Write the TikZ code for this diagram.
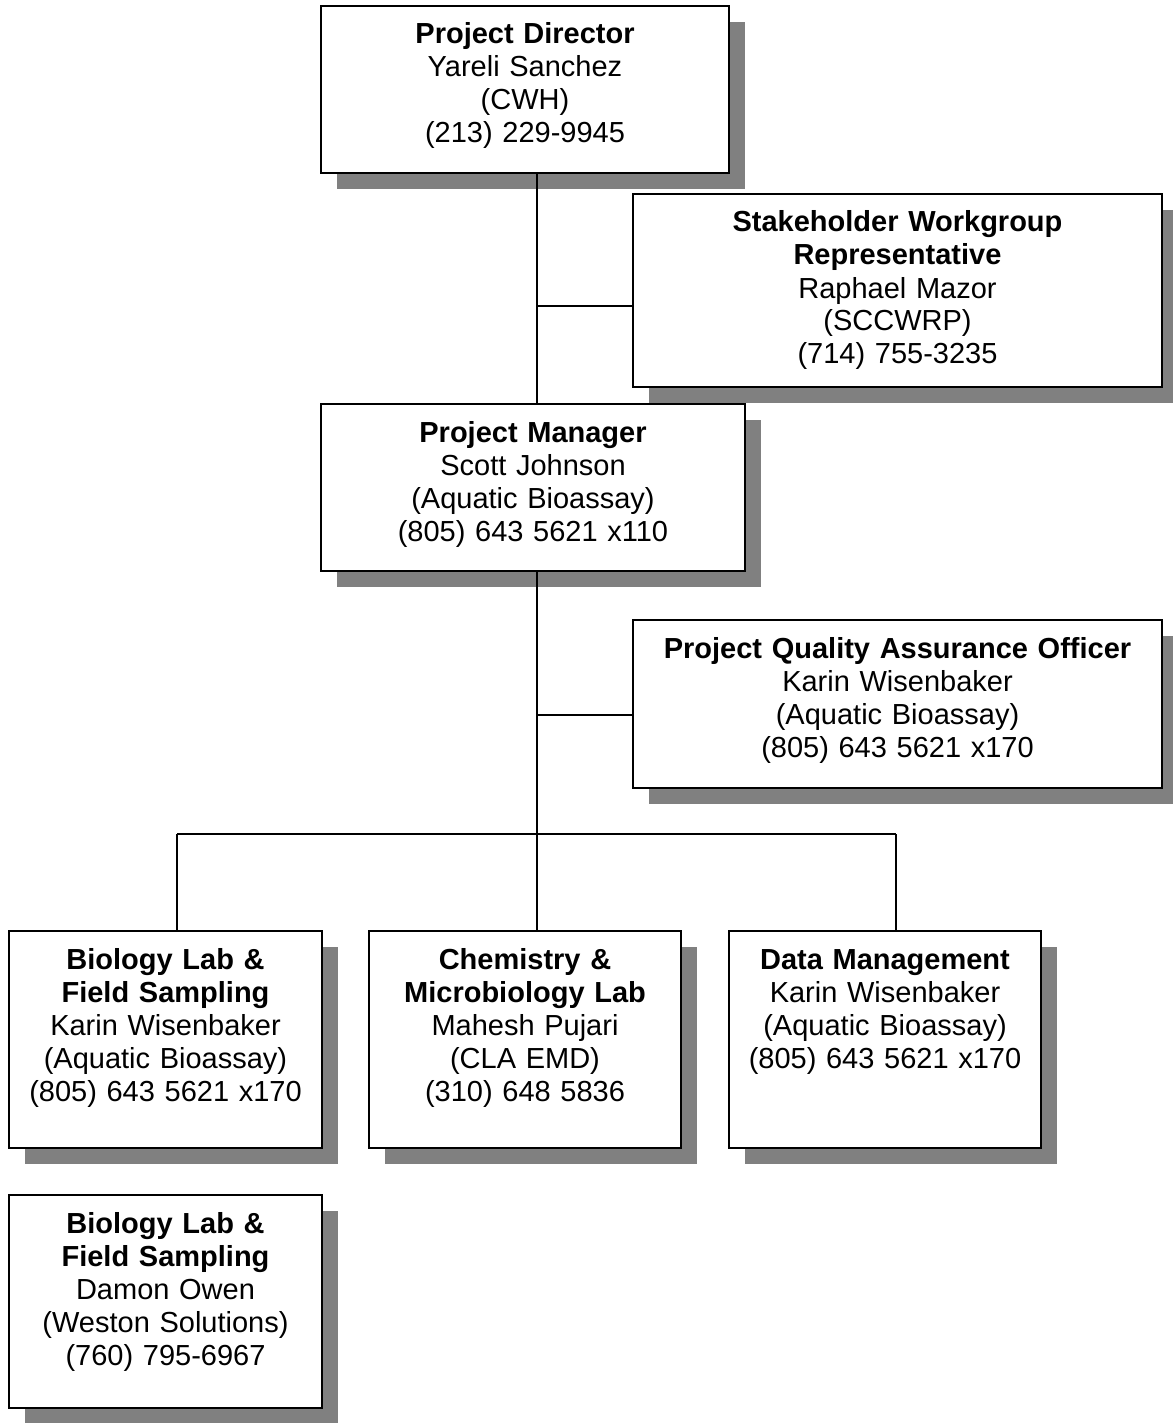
\documentclass[tikz,border=0pt]{standalone}
\usepackage{fontspec}
\setmainfont{Liberation Sans}
\usetikzlibrary{shadows}
\definecolor{shadowgray}{RGB}{128,128,128}
\tikzset{
  orgbox/.style={draw=black, line width=1pt, fill=white, anchor=north west,
    align=center, inner sep=0pt, text height=19pt,
    font=\fontsize{14.5pt}{16.5pt}\selectfont,
    drop shadow={shadow xshift=8pt, shadow yshift=-8pt, fill=shadowgray, opacity=1}},
  link/.style={line width=0.7pt}
}

\begin{document}
\begin{tikzpicture}[x=0.5pt,y=-0.5pt]
\useasboundingbox (0,0) rectangle (1172,1423);

% director on top
\node[orgbox, text width=204pt, text depth=64.75pt] (pd) at (320,5)
  {\textbf{Project Director}\\Yareli Sanchez\\(CWH)\\(213) 229-9945};
% stakeholder at the side
\node[orgbox, text width=264.5pt, text depth=77.25pt] (sw) at (632,193)
  {\textbf{Stakeholder Workgroup}\\\textbf{Representative}\\Raphael Mazor\\(SCCWRP)\\(714) 755-3235};
% manager
\node[orgbox, text width=212pt, text depth=64.5pt] (pm) at (320,403)
  {\textbf{Project Manager}\\Scott Johnson\\(Aquatic Bioassay)\\(805) 643 5621 x110};
% quality assurance at the side
\node[orgbox, text width=264.5pt, text depth=64.75pt] (qa) at (632,619)
  {\textbf{Project Quality Assurance Officer}\\Karin Wisenbaker\\(Aquatic Bioassay)\\(805) 643 5621 x170};

% lower row
\node[orgbox, text width=156.5pt, text depth=89.25pt] (bl) at (8,930)
  {\textbf{Biology Lab \&}\\\textbf{Field Sampling}\\Karin Wisenbaker\\(Aquatic Bioassay)\\(805) 643 5621 x170};
\node[orgbox, text width=156pt, text depth=89.25pt] (cm) at (368,930)
  {\textbf{Chemistry \&}\\\textbf{Microbiology Lab}\\Mahesh Pujari\\(CLA EMD)\\(310) 648 5836};
\node[orgbox, text width=156pt, text depth=89.25pt] (dm) at (728,930)
  {\textbf{Data Management}\\Karin Wisenbaker\\(Aquatic Bioassay)\\(805) 643 5621 x170};
% extra box below
\node[orgbox, text width=156.5pt, text depth=87.25pt] (bw) at (8,1194)
  {\textbf{Biology Lab \&}\\\textbf{Field Sampling}\\Damon Owen\\(Weston Solutions)\\(760) 795-6967};

% joints on the trunk
\coordinate (j1) at (537,306);
\coordinate (j2) at (537,715);
\coordinate (bus) at (537,834);
\coordinate (d1) at (177,834);
\coordinate (d3) at (896,834);

% upper trunk
\draw[link] (pd.south -| bus) -- (pm.north -| bus);
\draw[link] (j1) -- (j1 -| sw.west);
% lower trunk
\draw[link] (pm.south -| bus) -- (bus);
\draw[link] (j2) -- (j2 -| qa.west);
% bus line and drops
\draw[link] (d1) -- (d3);
\draw[link] (d1) -- (d1 |- bl.north);
\draw[link] (bus) -- (bus |- cm.north);
\draw[link] (d3) -- (d3 |- dm.north);

\end{tikzpicture}
\end{document}
